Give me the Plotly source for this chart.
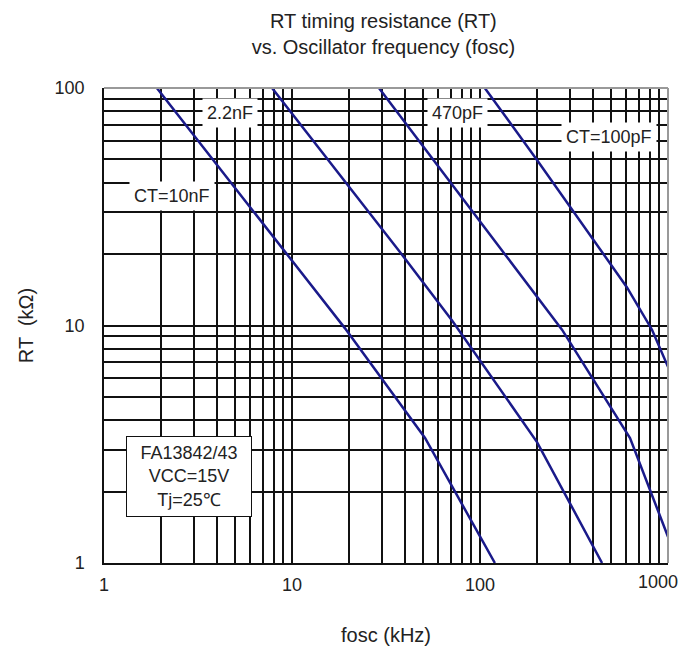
import plotly.graph_objects as go

# Data (fosc in kHz, RT in kOhm)
ct_labels = ["CT=10nF", "2.2nF", "470pF", "CT=100pF"]
f_10nF = [1.91, 19.1, 51, 120]
rt_10nF = [100, 9.75, 3.36, 1]
f_2n2 = [7.83, 37.5, 71, 201, 446]
rt_2n2 = [100, 20.4, 10.5, 3.23, 1]
f_470p = [29, 273, 628, 1000]
rt_470p = [100, 9.6, 3.36, 1.29]
f_100p = [106, 201, 604, 822, 1000]
rt_100p = [100, 49.8, 14.5, 9.6, 6.7]

x_tickvals = [m * 10 ** e for e in range(0, 3) for m in range(1, 10)] + [1000]
x_ticktext = [str(v) if v in (1, 10, 100) else "" for v in x_tickvals]
x_last_label = "1000"
y_tickvals = [m * 10 ** e for e in range(0, 2) for m in range(1, 10)] + [100]
y_ticktext = [str(v) if v in (1, 10, 100) else "" for v in y_tickvals]

line_color = "#1a1a8a"
font_family = "Liberation Sans, Arial, sans-serif"

fig = go.Figure()
for fx, ry in [(f_10nF, rt_10nF), (f_2n2, rt_2n2), (f_470p, rt_470p), (f_100p, rt_100p)]:
    fig.add_trace(go.Scatter(x=fx, y=ry, mode="lines",
                             line=dict(color=line_color, width=2.5),
                             showlegend=False, hoverinfo="skip"))

fig.update_layout(
    width=681, height=646,
    template="none",
    paper_bgcolor="white", plot_bgcolor="white",
    margin=dict(l=104, r=13, t=88, b=83),
    font=dict(family=font_family, color="#222", size=18),
    title=dict(text="RT timing resistance (RT)<br>vs. Oscillator frequency (fosc)",
               x=0.563, xanchor="center", y=0.957, yanchor="top",
               font=dict(size=20, family=font_family, color="#222")),
    showlegend=False,
)
fig.update_xaxes(type="log", range=[0, 3], tickvals=x_tickvals, ticktext=x_ticktext,
                 showgrid=True, gridcolor="#111", gridwidth=1.5,
                 showline=True, linecolor="#111", linewidth=1.5, mirror=False,
                 ticks="", zeroline=False, automargin=False,
                 ticklabelstandoff=5,
                 tickfont=dict(size=18, color="#222"),
                 title=dict(text="fosc (kHz)", font=dict(size=20, color="#222"), standoff=34))
fig.update_yaxes(type="log", range=[0, 2], tickvals=y_tickvals, ticktext=y_ticktext,
                 showgrid=True, gridcolor="#111", gridwidth=1.5,
                 showline=True, linecolor="#111", linewidth=1.5, mirror=False,
                 ticks="", zeroline=False, automargin=False,
                 ticklabelstandoff=14,
                 tickfont=dict(size=18, color="#222"),
                 title=dict(text="RT  (kΩ)", font=dict(size=20, color="#222"), standoff=16))

# last x label, kept inside the page
fig.add_annotation(x=1.0, xshift=12, y=0, yref="paper", xref="paper", yanchor="top", yshift=-7,
                   xanchor="right", text=x_last_label, showarrow=False,
                   font=dict(size=18, color="#222", family=font_family))

# grey top/right frame
fig.add_shape(type="line", xref="paper", yref="paper", x0=0, x1=1, y0=1, y1=1,
              line=dict(color="#999", width=2))
fig.add_shape(type="line", xref="paper", yref="paper", x0=1, x1=1, y0=0, y1=1,
              line=dict(color="#999", width=2))

label_pos = [(0.362, 1.545), (0.67, 1.895), (1.878, 1.895), (2.686, 1.794)]
for txt, (lx, ly) in zip(ct_labels, label_pos):
    fig.add_annotation(x=lx, y=ly, xref="x", yref="y", text=txt, showarrow=False,
                       bgcolor="white", borderpad=4,
                       font=dict(size=18, color="#222", family=font_family))

fig.add_annotation(x=0.452, y=0.366, xref="x", yref="y",
                   text="FA13842/43<br>VCC=15V<br>Tj=25℃", showarrow=False,
                   bgcolor="white", bordercolor="#111", borderwidth=1, borderpad=6,
                   width=112, align="center",
                   font=dict(size=18, color="#222", family=font_family))

fig.write_html("out.html")
